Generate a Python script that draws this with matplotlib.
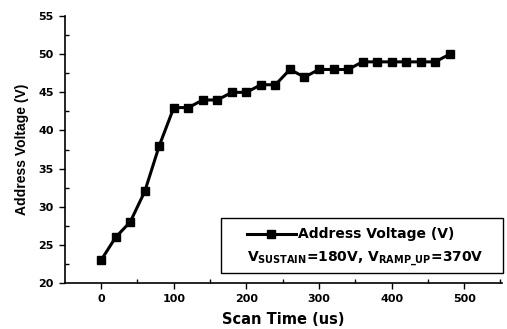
import matplotlib
matplotlib.use("Agg")
import matplotlib.pyplot as plt
from matplotlib.lines import Line2D
from matplotlib.patches import Rectangle

# datos
scan_time = [0, 20, 40, 60, 80, 100, 120, 140, 160, 180, 200, 220, 240,
             260, 280, 300, 320, 340, 360, 380, 400, 420, 440, 460, 480]
address_voltage = [23, 26, 28, 32, 38, 43, 43, 44, 44, 45, 45, 46, 46,
                   48, 47, 48, 48, 48, 49, 49, 49, 49, 49, 49, 50]
x_ticks = [0, 100, 200, 300, 400, 500]
y_ticks = [20, 25, 30, 35, 40, 45, 50, 55]

plt.rcParams['mathtext.fontset'] = 'custom'
plt.rcParams['mathtext.rm'] = 'DejaVu Sans:bold'
plt.rcParams['mathtext.bf'] = 'DejaVu Sans:bold'

fig = plt.figure(figsize=(5.07, 3.29), dpi=100)
ax = fig.add_axes([0.128, 0.140, 0.862, 0.811])

ax.plot(scan_time, address_voltage, color='black', linewidth=2.2,
        marker='s', markersize=6, markerfacecolor='black', markeredgecolor='black')

ax.set_xlim(-50, 552)
ax.set_ylim(20, 55)
ax.set_xticks(x_ticks)
ax.set_yticks(y_ticks)
ax.set_xticks([50, 150, 250, 350, 450, 550], minor=True)
ax.set_yticks([22.5, 27.5, 32.5, 37.5, 42.5, 47.5, 52.5], minor=True)
ax.tick_params(axis='both', which='major', direction='out', length=4, width=1,
               labelsize=8, pad=4)
ax.tick_params(axis='both', which='minor', direction='in', length=3, width=1)
for lab in ax.get_xticklabels() + ax.get_yticklabels():
    lab.set_fontfamily('DejaVu Sans')
    lab.set_fontweight('bold')

ax.spines['top'].set_visible(False)
ax.spines['right'].set_visible(False)
ax.spines['left'].set_linewidth(1.2)
ax.spines['bottom'].set_linewidth(1.2)

ax.set_xlabel('Scan Time (us)', fontsize=10.5, fontweight='bold',
              fontfamily='DejaVu Sans', labelpad=6)
ax.set_ylabel('Address Voltage (V)', fontsize=10, fontweight='bold',
              fontfamily='Liberation Sans', labelpad=7)

# cuadro de leyenda dibujado a mano
ax.add_patch(Rectangle((0.358, 0.038), 0.645, 0.205, transform=ax.transAxes,
                       fill=False, edgecolor='black', linewidth=1.0, clip_on=False))
ax.add_line(Line2D([0.416, 0.529], [0.185, 0.185], transform=ax.transAxes,
                   color='black', linewidth=2.2, clip_on=False))
ax.plot([0.472], [0.185], transform=ax.transAxes, marker='s', markersize=6,
        color='black', clip_on=False)
ax.text(0.533, 0.185, 'Address Voltage (V)', transform=ax.transAxes,
        fontsize=10, fontweight='bold', fontfamily='DejaVu Sans', va='center')
ax.text(0.416, 0.090, r'V$_{\mathrm{SUSTAIN}}$=180V, V$_{\mathrm{RAMP\_UP}}$=370V',
        transform=ax.transAxes, fontsize=10, fontweight='bold',
        fontfamily='DejaVu Sans', va='center')

fig.savefig('out.png', dpi=100)
